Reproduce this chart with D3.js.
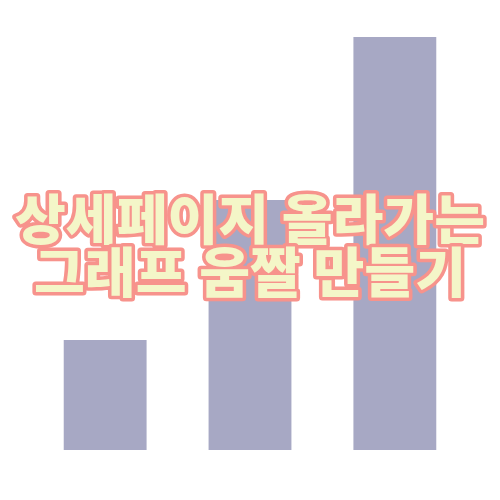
<!DOCTYPE html>
<html>
<head>
<meta charset="utf-8">
<script src="https://cdn.jsdelivr.net/npm/d3@7"></script>
<style>
  html, body { margin: 0; padding: 0; background: #fff; }
  svg { display: block; }
</style>
</head>
<body>
<svg id="chart" width="500" height="500"></svg>
<script>
// chart data
const categories = ['A', 'B', 'C'];
const values = [11, 25, 41.3];
const titleLines = ['상세페이지 올라가는', '그래프 움짤 만들기'];

const WIDTH = 500;
const HEIGHT = 500;
const BAR_COLOR = '#a7a8c4';

let svg = d3.select('#chart');

let x = d3.scaleBand()
  .domain(categories)
  .range([0, WIDTH])
  .paddingInner(0.428)
  .paddingOuter(0.44);

let y = d3.scaleLinear()
  .domain([0, 45])
  .range([450, 0]);

svg.append('g')
  .selectAll('rect')
  .data(values)
  .join('rect')
  .attr('x', (d, i) => x(categories[i]))
  .attr('width', x.bandwidth())
  .attr('y', d => y(d))
  .attr('height', d => y(0) - y(d))
  .attr('fill', BAR_COLOR);

// title overlay, stroke painted under the fill
let lineWidths = [470, 432];
let baselines = [240, 293];

svg.append('g')
  .selectAll('text')
  .data(titleLines)
  .join('text')
  .attr('x', WIDTH / 2)
  .attr('y', (d, i) => baselines[i])
  .attr('text-anchor', 'middle')
  .attr('textLength', (d, i) => lineWidths[i])
  .attr('lengthAdjust', 'spacingAndGlyphs')
  .style('font-family', '"Noto Sans CJK KR", sans-serif')
  .style('font-weight', 900)
  .style('font-size', '54px')
  .style('fill', '#f4f6c8')
  .style('stroke', '#f7938c')
  .style('stroke-width', 7)
  .style('stroke-linejoin', 'round')
  .style('paint-order', 'stroke')
  .text(d => d);
</script>
</body>
</html>
